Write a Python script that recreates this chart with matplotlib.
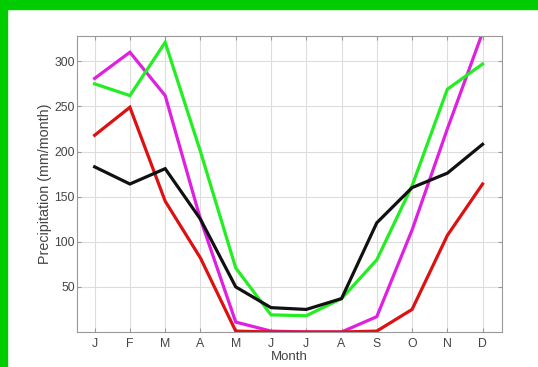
import matplotlib
matplotlib.use("Agg")
import matplotlib.pyplot as plt
from matplotlib.patches import Rectangle

months = ["J", "F", "M", "A", "M", "J", "J", "A", "S", "O", "N", "D"]
black = [183, 164, 181, 125, 50, 27, 25, 37, 121, 160, 176, 208]
green = [275, 262, 321, 200, 71, 19, 18, 37, 80, 162, 269, 297]
magenta = [281, 310, 262, 125, 11, 1, 0, 0, 17, 113, 225, 332]
red = [218, 249, 145, 82, 1, 0, 0, 0, 1, 25, 107, 164]
yticks = [50, 100, 150, 200, 250, 300]

plt.rcParams['font.family'] = ['Liberation Sans', 'DejaVu Sans']
W, H = 538, 367
fig = plt.figure(figsize=(W/100, H/100), dpi=100)
fig.patches.append(Rectangle((0, 0), 7/W, 1, transform=fig.transFigure, color='#00cc00', zorder=0))
fig.patches.append(Rectangle((0, 1-9/H), 1, 9/H, transform=fig.transFigure, color='#00cc00', zorder=0))

ax = fig.add_axes([77/W, 1-332/H, (502-77)/W, (332-36)/H])
x = list(range(1, 13))
for s, c in [(magenta, '#e020e0'), (green, '#22ee22'), (red, '#dd1111'), (black, '#111111')]:
    ax.plot(x, s, color=c, lw=2.3, solid_joinstyle='miter')
ax.set_xlim(0.5, 12.55)
ax.set_ylim(0, 328)
ax.set_xticks(x)
ax.set_xticklabels(months)
ax.set_yticks(yticks)
ax.grid(True, color='#dddddd', lw=0.8)
ax.set_axisbelow(True)
for sp in ax.spines.values():
    sp.set_color('#999999')
ax.tick_params(direction='in', right=True, top=True, colors='#999999', labelcolor='#444444', labelsize=8.8, length=3)
ax.tick_params(axis='y', pad=1.5)
ax.tick_params(axis='x', pad=4)
ax.set_ylabel("Precipitation (mm/month)", fontsize=10.3, color='#444444', labelpad=2)
ax.set_xlabel("Month", fontsize=9.5, color='#444444', labelpad=1)
fig.savefig("out.png", dpi=100)
